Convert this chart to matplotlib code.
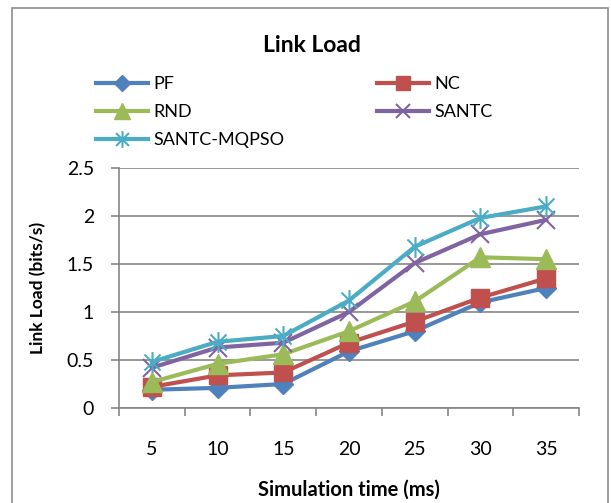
import numpy as np
import matplotlib.pyplot as plt
from matplotlib.path import Path
from matplotlib.patches import Rectangle

plt.rcParams['font.family'] = ['Lato', 'DejaVu Sans']

times = ['5', '10', '15', '20', '25', '30', '35']
pf = [0.19, 0.21, 0.25, 0.59, 0.80, 1.10, 1.25]
nc = [0.22, 0.34, 0.37, 0.68, 0.90, 1.15, 1.35]
rnd = [0.27, 0.46, 0.56, 0.80, 1.11, 1.57, 1.55]
santc = [0.42, 0.63, 0.68, 1.00, 1.51, 1.81, 1.96]
mqpso = [0.48, 0.69, 0.75, 1.12, 1.68, 1.98, 2.10]

# звёздочка как в Excel: крест + вертикальная черта
star = Path([(-1, -1), (1, 1), (-1, 1), (1, -1), (0, -1.3), (0, 1.3)],
            [Path.MOVETO, Path.LINETO, Path.MOVETO, Path.LINETO, Path.MOVETO, Path.LINETO])

fig = plt.figure(figsize=(6.11, 5.03), dpi=100)
fig.patches.append(Rectangle((12 / 611, -0.1), 596 / 611, 1.1 - 8 / 503, transform=fig.transFigure,
                             fill=False, edgecolor='#8c8c8c', linewidth=1.2))
ax = fig.add_axes([119 / 611, 1 - 408 / 503, 460 / 611, 240 / 503])

x = np.arange(len(times))
lw = 3
h_pf, = ax.plot(x, pf, color='#4F81BD', lw=lw, marker='D', ms=10, label='PF')
h_nc, = ax.plot(x, nc, color='#C0504D', lw=lw, marker='s', ms=13, label='NC')
h_rnd, = ax.plot(x, rnd, color='#9BBB59', lw=lw, marker='^', ms=14, label='RND')
h_san, = ax.plot(x, santc, color='#8064A2', lw=lw, marker='x', ms=13, mew=1.5, label='SANTC')
h_mq, = ax.plot(x, mqpso, color='#4BACC6', lw=lw, marker=star, ms=15, mew=1.5, label='SANTC-MQPSO')

ax.set_xlim(-0.5, len(times) - 0.5)
ax.set_ylim(0, 2.5)
ax.set_yticks([0, 0.5, 1, 1.5, 2, 2.5])
ax.set_yticklabels(['0', '0.5', '1', '1.5', '2', '2.5'])
ax.set_xticks(np.arange(-0.5, len(times), 1.0))
ax.set_xticklabels([])
ax.set_xticks(x, minor=True)
ax.set_xticklabels(times, minor=True)
ax.tick_params(axis='x', which='major', direction='out', length=6, color='#868686', width=1.2)
ax.tick_params(axis='x', which='minor', length=0, pad=24, labelsize=14)
ax.tick_params(axis='y', direction='out', length=6, color='#868686', width=1.2, labelsize=14, pad=12)
ax.grid(axis='y', color='#868686', lw=1.2)
ax.set_axisbelow(True)
for s in ['top', 'right']:
    ax.spines[s].set_visible(False)
for s in ['left', 'bottom']:
    ax.spines[s].set_color('#868686')
    ax.spines[s].set_linewidth(1.2)

fig.text(349 / 611, 1 - 490 / 503, 'Simulation time (ms)', ha='center', va='center',
         fontsize=14.5, fontweight='bold')
fig.text(38 / 611, 1 - 288 / 503, 'Link Load (bits/s)', ha='center', va='center', rotation=90,
         fontsize=12.5, fontweight='bold')
fig.text(312 / 611, 1 - 45 / 503, 'Link Load', ha='center', va='center', fontsize=16.5, fontweight='bold')

fig.legend([h_pf, h_rnd, h_mq, h_nc, h_san], ['PF', 'RND', 'SANTC-MQPSO', 'NC', 'SANTC'],
           ncol=2, loc='upper left', bbox_to_anchor=(87 / 611, 1 - 67 / 503), frameon=False,
           fontsize=13, handlelength=2.9, handletextpad=0.28, labelspacing=0.67,
           columnspacing=5.1, borderpad=0, markerscale=0.8)

fig.savefig('out.png', dpi=100)
